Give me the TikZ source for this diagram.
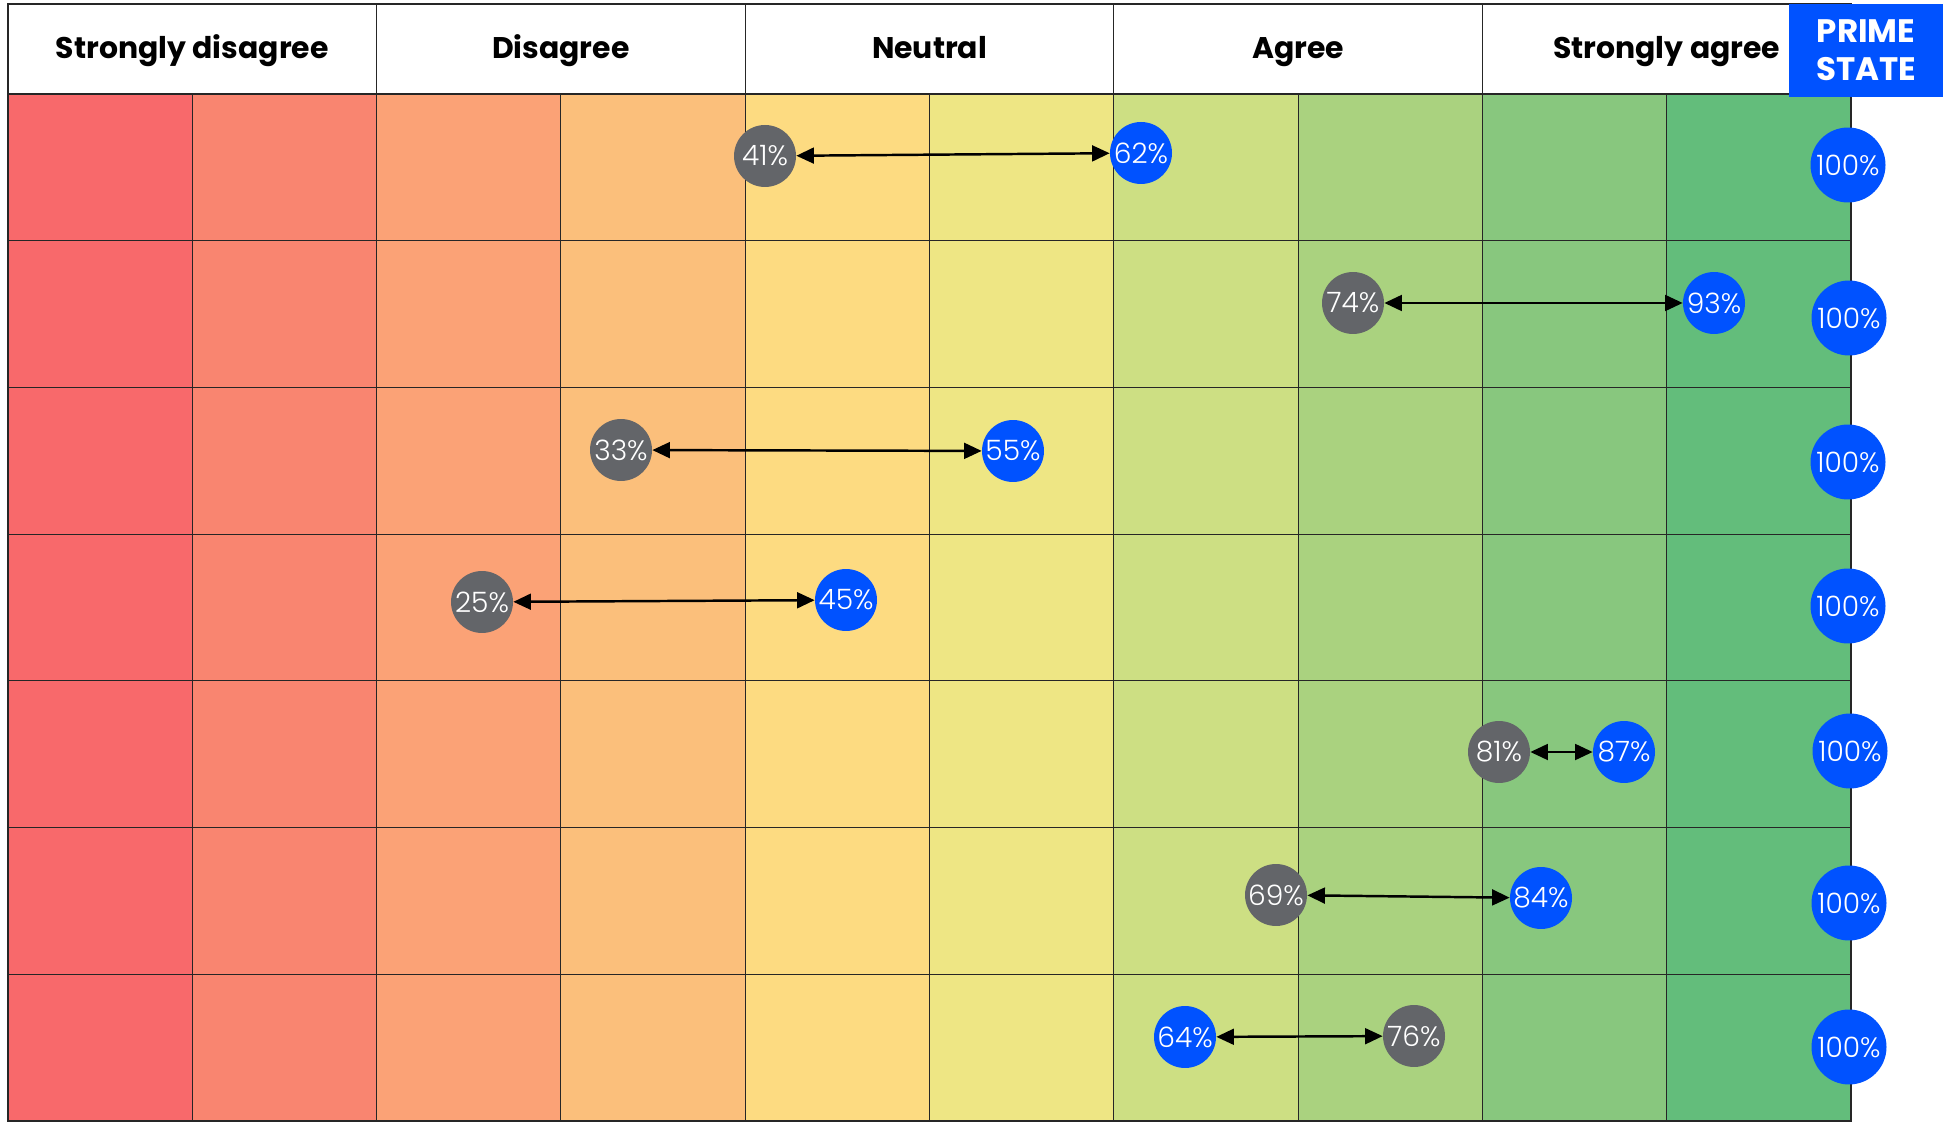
\documentclass[tikz,border=0pt]{standalone}
\usepackage{fontspec}
\setmainfont{Poppins}
\newfontfamily\pctfont{Poppins Light}
\usetikzlibrary{arrows.meta}
\definecolor{scaleA}{HTML}{F8696B}
\definecolor{scaleB}{HTML}{F98570}
\definecolor{scaleC}{HTML}{FBA276}
\definecolor{scaleD}{HTML}{FBBF7B}
\definecolor{scaleE}{HTML}{FDDB81}
\definecolor{scaleF}{HTML}{EEE684}
\definecolor{scaleG}{HTML}{CDDF83}
\definecolor{scaleH}{HTML}{AAD27F}
\definecolor{scaleI}{HTML}{88C77E}
\definecolor{scaleJ}{HTML}{63BD7B}
\definecolor{dotgray}{HTML}{636569}
\definecolor{primeblue}{HTML}{0052FF}

\begin{document}
\begin{tikzpicture}[x=0.02cm, y=-0.02cm, font=\fontsize{16}{19}\selectfont\pctfont]
      \tikzstyle{cellline}=[black!85,line width=0.6pt]
      \tikzstyle{head}=[anchor=base,font=\fontsize{17}{20}\selectfont\rmfamily\bfseries]
      \tikzstyle{dot}=[circle,inner sep=0pt,minimum size=1.24cm,text=white]
      \tikzstyle{was}=[dot,fill=dotgray]
      \tikzstyle{now}=[dot,fill=primeblue]
      \tikzstyle{full}=[dot,fill=primeblue,minimum size=1.5cm]
      \tikzstyle{gap}=[{Triangle[length=10pt,width=9pt]}-{Triangle[length=10pt,width=9pt]},line width=1.4pt]
      \useasboundingbox (0,0) rectangle (1947,1124);

      % colour scale
      \fill[scaleA] (8,94) rectangle (192.3,1121);
      \fill[scaleB] (192.3,94) rectangle (376.6,1121);
      \fill[scaleC] (376.6,94) rectangle (560.9,1121);
      \fill[scaleD] (560.9,94) rectangle (745.2,1121);
      \fill[scaleE] (745.2,94) rectangle (929.5,1121);
      \fill[scaleF] (929.5,94) rectangle (1113.8,1121);
      \fill[scaleG] (1113.8,94) rectangle (1298.1,1121);
      \fill[scaleH] (1298.1,94) rectangle (1482.4,1121);
      \fill[scaleI] (1482.4,94) rectangle (1666.7,1121);
      \fill[scaleJ] (1666.7,94) rectangle (1851,1121);
      \foreach \i in {1,...,9} \draw[cellline] ({8+184.3*\i},94) -- ({8+184.3*\i},1121);
      \foreach \j in {1,...,6} \draw[cellline] (8,{94+146.7*\j}) -- (1851,{94+146.7*\j});
      \draw[cellline] (8,94) rectangle (1851,1121);

      % header
      \draw[cellline,fill=white] (8,4) rectangle (1851,94);
      \draw[cellline] (376.6,4) -- (376.6,94);
      \draw[cellline] (745.2,4) -- (745.2,94);
      \draw[cellline] (1113.8,4) -- (1113.8,94);
      \draw[cellline] (1482.4,4) -- (1482.4,94);
      \node[head] (sd) at (192.3,59) {Strongly disagree};
      \node[head] (d) at (560.9,59) {Disagree};
      \node[head] (n) at (929.5,59) {Neutral};
      \node[head] (a) at (1298.1,59) {Agree};
      \node[head] (sa) at (1666.7,59) {Strongly agree};
      \fill[primeblue] (1789,4) rectangle (1943,97);
      \node[text=white,align=center,font=\fontsize{18.5}{21.5}\selectfont\rmfamily\bfseries] (prime) at (1866,50) {PRIME\\STATE};

      % row 1
      \node[was] (r1a) at (765,156) {41\%};
      \node[now] (r1b) at (1141,153) {62\%};
      \node[full] (r1c) at (1848,165) {100\%};
      \draw[gap] (r1a) -- (r1b);

      % row 2
      \node[was] (r2a) at (1353,303) {74\%};
      \node[now] (r2b) at (1714,303) {93\%};
      \node[full] (r2c) at (1849,318) {100\%};
      \draw[gap] (r2a) -- (r2b);

      % row 3
      \node[was] (r3a) at (621,450) {33\%};
      \node[now] (r3b) at (1013,451) {55\%};
      \node[full] (r3c) at (1848,462) {100\%};
      \draw[gap] (r3a) -- (r3b);

      % row 4
      \node[was] (r4a) at (482,602) {25\%};
      \node[now] (r4b) at (846,600) {45\%};
      \node[full] (r4c) at (1848,606) {100\%};
      \draw[gap] (r4a) -- (r4b);

      % row 5
      \node[was] (r5a) at (1499,752) {81\%};
      \node[now] (r5b) at (1624,752) {87\%};
      \node[full] (r5c) at (1850,751) {100\%};
      \draw[gap] (r5a) -- (r5b);

      % row 6
      \node[was] (r6a) at (1276,895) {69\%};
      \node[now] (r6b) at (1541,898) {84\%};
      \node[full] (r6c) at (1849,903) {100\%};
      \draw[gap] (r6a) -- (r6b);

      % row 7
      \node[now] (r7a) at (1185,1037) {64\%};
      \node[was] (r7b) at (1414,1036) {76\%};
      \node[full] (r7c) at (1849,1047) {100\%};
      \draw[gap] (r7a) -- (r7b);
    \end{tikzpicture}
\end{document}
